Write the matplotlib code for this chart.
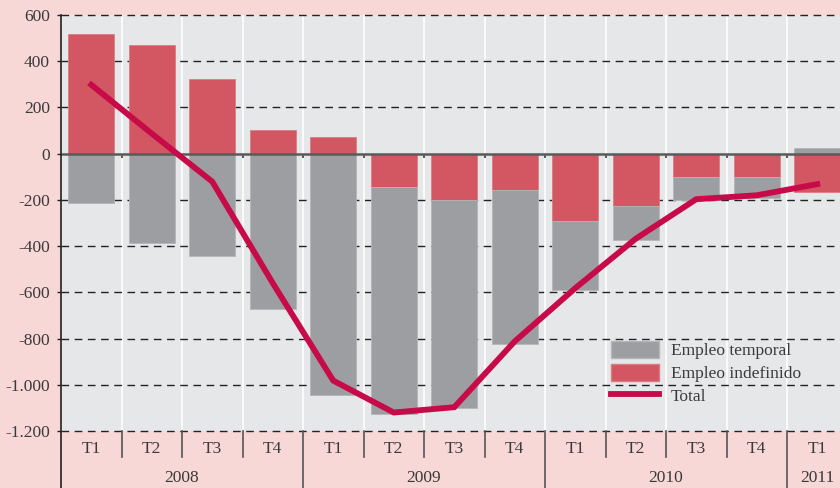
import numpy as np
import matplotlib
matplotlib.use("Agg")
import matplotlib.pyplot as plt
from matplotlib.patches import Patch
from matplotlib.lines import Line2D
import matplotlib.transforms as mtransforms

# ---- data (miles de empleos, variación interanual) ----
quarters = ["T1", "T2", "T3", "T4", "T1", "T2", "T3", "T4",
            "T1", "T2", "T3", "T4", "T1"]
years = ["2008", "2009", "2010", "2011"]
year_quarters = [4, 4, 4, 1]
indefinido = [519, 472, 325, 104, 74, -143, -199, -156, -290, -225, -100, -100, -164]
temporal = [-212, -385, -441, -671, -1043, -982, -900, -666, -298, -147, -100, -90, 26]
total = [298, 87, -121, -560, -982, -1120, -1097, -812, -582, -368, -197, -180, -132]

labels = ["Empleo temporal", "Empleo indefinido", "Total"]

# ---- style ----
FIG_BG = "#F7D8D6"
AX_BG = "#E6E7E9"
RED = "#D35762"
GRAY = "#9D9EA2"
LINE = "#C70A48"
TXT = "#3A3A3A"
FONT = ["Liberation Serif", "DejaVu Serif"]
plt.rcParams["font.family"] = FONT

W, H = 840, 488
fig = plt.figure(figsize=(W / 100, H / 100), dpi=100, facecolor=FIG_BG)
L, R, T, B = 61, 840, 15, 431
ax = fig.add_axes([L / W, 1 - B / H, (R - L) / W, (B - T) / H])
ax.set_facecolor(AX_BG)

n = len(quarters)
x = np.arange(n)
cat_px = 60.5
ax.set_xlim(-0.5, -0.5 + (R - L) / cat_px)
ax.set_ylim(-1200, 600)

ind = np.array(indefinido, dtype=float)
tem = np.array(temporal, dtype=float)
bottom_tem = np.where(tem < 0, np.minimum(ind, 0), np.maximum(ind, 0))

bw = 0.76
ax.bar(x, ind, width=bw, color=RED, edgecolor="#DA7C84", linewidth=0.6, zorder=3)
ax.bar(x, tem, bottom=bottom_tem, width=bw, color=GRAY, edgecolor="#B5B6B9",
       linewidth=0.6, zorder=3)
ax.plot(x, total, color=LINE, lw=4.2, solid_joinstyle="miter", zorder=5)

# vertical white separators between categories
bounds = np.arange(n) + 0.5
for b in bounds:
    ax.axvline(b, color="white", lw=1.2, zorder=1)

# dashed horizontal grid
yt = np.arange(-1200, 601, 200)
for v in yt:
    if v == 0:
        continue
    ax.axhline(v, color="#222222", lw=1.0, dashes=(5.5, 4), zorder=2, clip_on=False)
ax.axhline(0, color="#5A5A5A", lw=1.8, zorder=4)
ax.vlines(bounds, -20, 0, color="#5A5A5A", lw=1.4, zorder=4)

ax.set_yticks(yt)
ax.set_yticklabels([f"{v:,}".replace(",", ".") for v in yt], color=TXT, fontsize=12.5)
ax.tick_params(axis="y", length=3, width=1, color="#222222", pad=5)
ax.set_xticks([])
for s in ax.spines.values():
    s.set_visible(False)

# left axis line running to the bottom of the figure
trans = mtransforms.blended_transform_factory(ax.transData, ax.transAxes)
frac = lambda px: -(px - B) / (B - T)
ax.add_line(Line2D([-0.5, -0.5], [1, frac(H + 2)], transform=trans, color="#222222",
                   lw=1.2, clip_on=False, zorder=6))

# quarter labels and separators
for i, q in enumerate(quarters):
    ax.text(i, frac(449), q, transform=trans, ha="center", va="center",
            fontsize=12.5, color=TXT)
start = 0
year_bounds = []
for yname, cnt in zip(years, year_quarters):
    ax.text(start + (cnt - 1) / 2, frac(478), yname, transform=trans, ha="center",
            va="center", fontsize=12.5, color=TXT, clip_on=False)
    start += cnt
    year_bounds.append(start - 0.5)
for b in bounds:
    if b > ax.get_xlim()[1]:
        continue
    low = frac(H + 2) if b in year_bounds else frac(457)
    ax.add_line(Line2D([b, b], [0, low], transform=trans, color="#555555",
                       lw=1.2, clip_on=False))

handles = [Patch(facecolor=GRAY, edgecolor="#B5B6B9"),
           Patch(facecolor=RED, edgecolor="#DA7C84"),
           Line2D([0], [0], color=LINE, lw=4.2)]
leg = ax.legend(handles, labels, loc="upper left",
                bbox_to_anchor=(611 / W, 1 - 341 / H), bbox_transform=fig.transFigure,
                frameon=False, fontsize=12.5, handlelength=2.75, handleheight=1.15,
                labelspacing=0.24, handletextpad=0.7, borderaxespad=0, borderpad=0)
for t in leg.get_texts():
    t.set_color(TXT)

fig.savefig("out.png", dpi=100, facecolor=FIG_BG)
